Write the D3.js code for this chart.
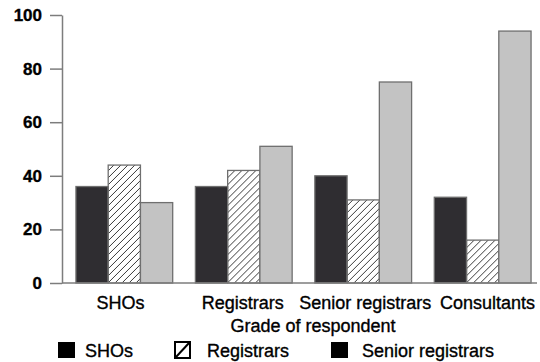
<!DOCTYPE html>
<html>
<head>
<meta charset="utf-8">
<script src="https://cdn.jsdelivr.net/npm/d3@7"></script>
<style>
  body { margin: 0; background: #fff; }
  text { font-family: "Liberation Sans", Arial, sans-serif; fill: #000; stroke: #000; stroke-width: 0.35px; }
</style>
</head>
<body>
<svg id="chart" width="540" height="362"></svg>
<script>
const categories = ['SHOs', 'Registrars', 'Senior registrars', 'Consultants'];
const seriesNames = ['SHOs', 'Registrars', 'Senior registrars'];
const shoValues = [36, 36, 40, 32];
const registrarValues = [44, 42, 31, 16];
const seniorValues = [30, 51, 75, 94];
const yTicks = [0, 20, 40, 60, 80, 100];

const seriesValues = [shoValues, registrarValues, seniorValues];
const rows = categories.map((c, i) => ({
  cat: c,
  vals: seriesNames.map((s, j) => ({ key: s, value: seriesValues[j][i] })),
}));

const svg = d3.select('#chart');
const axisGrey = '#7d7d7d';
const fontSize = '18px';

const y = d3.scaleLinear().domain([0, 100]).range([283, 15]);
const x0 = d3.scaleBand().domain(categories).range([64, 543])
  .paddingInner(0.19).paddingOuter(0.1);
const x1 = d3.scaleBand().domain(seriesNames).range([0, x0.bandwidth()]);
// the category labels sit a little off the group centres in the original
const labelX = d3.scalePoint().domain(categories).range([120, 487]);

const defs = svg.append('defs');
defs.append('pattern')
  .attr('id', 'hatch')
  .attr('patternUnits', 'userSpaceOnUse')
  .attr('width', 7).attr('height', 7)
  .append('path')
  .attr('d', 'M-1,1 L1,-1 M0,7 L7,0 M6,8 L8,6')
  .attr('stroke', '#3a3a3a')
  .attr('stroke-width', 1);

const fills = {
  SHOs: '#2f2d31',
  Registrars: 'url(#hatch)',
  'Senior registrars': '#c3c3c3',
};

// y axis
const yAxis = svg.append('g')
  .attr('transform', 'translate(62,0)')
  .call(d3.axisLeft(y).tickValues(yTicks).tickSize(12).tickSizeOuter(0).tickPadding(8));
yAxis.select('.domain').attr('stroke', axisGrey).attr('stroke-width', 1.5);
yAxis.selectAll('.tick line').attr('stroke', axisGrey).attr('stroke-width', 1.5);
yAxis.selectAll('.tick text')
  .style('font-size', '17px').style('font-weight', 'bold').attr('fill', '#000');

// bars
svg.append('g')
  .selectAll('g')
  .data(rows)
  .join('g')
  .attr('transform', (d) => `translate(${x0(d.cat)},0)`)
  .selectAll('rect')
  .data((d) => d.vals)
  .join('rect')
  .attr('x', (d) => x1(d.key))
  .attr('y', (d) => y(d.value))
  .attr('width', x1.bandwidth())
  .attr('height', (d) => y(0) - y(d.value))
  .attr('fill', (d) => fills[d.key])
  .attr('stroke', '#6f6f6f')
  .attr('stroke-width', 1.3);

// x axis line
svg.append('line')
  .attr('x1', 62).attr('x2', 537)
  .attr('y1', y(0)).attr('y2', y(0))
  .attr('stroke', axisGrey).attr('stroke-width', 1.5);

const xAxis = svg.append('g')
  .attr('transform', `translate(0,${y(0)})`)
  .call(d3.axisBottom(labelX).tickSize(0).tickPadding(13));
xAxis.select('.domain').remove();
xAxis.selectAll('.tick text').style('font-size', fontSize).attr('fill', '#000');

svg.append('text')
  .attr('x', 313).attr('y', 332)
  .attr('text-anchor', 'middle')
  .style('font-size', fontSize)
  .text('Grade of respondent');

// legend
const legendX = [58, 175, 331];
const legend = svg.append('g')
  .selectAll('g')
  .data(seriesNames)
  .join('g')
  .attr('transform', (d, i) => `translate(${legendX[i]},342)`);

legend.append('rect')
  .attr('width', (d, i) => (i === 1 ? 15 : 17))
  .attr('height', 16)
  .attr('fill', (d, i) => (i === 1 ? '#fff' : '#000'))
  .attr('stroke', '#000')
  .attr('stroke-width', (d, i) => (i === 1 ? 2 : 0));
legend.filter((d, i) => i === 1)
  .append('line')
  .attr('x1', 1).attr('y1', 15).attr('x2', 14).attr('y2', 1)
  .attr('stroke', '#000').attr('stroke-width', 2);

legend.append('text')
  .attr('x', (d, i) => [27, 32, 31][i])
  .attr('y', 15)
  .style('font-size', fontSize)
  .text((d) => d);
</script>
</body>
</html>
